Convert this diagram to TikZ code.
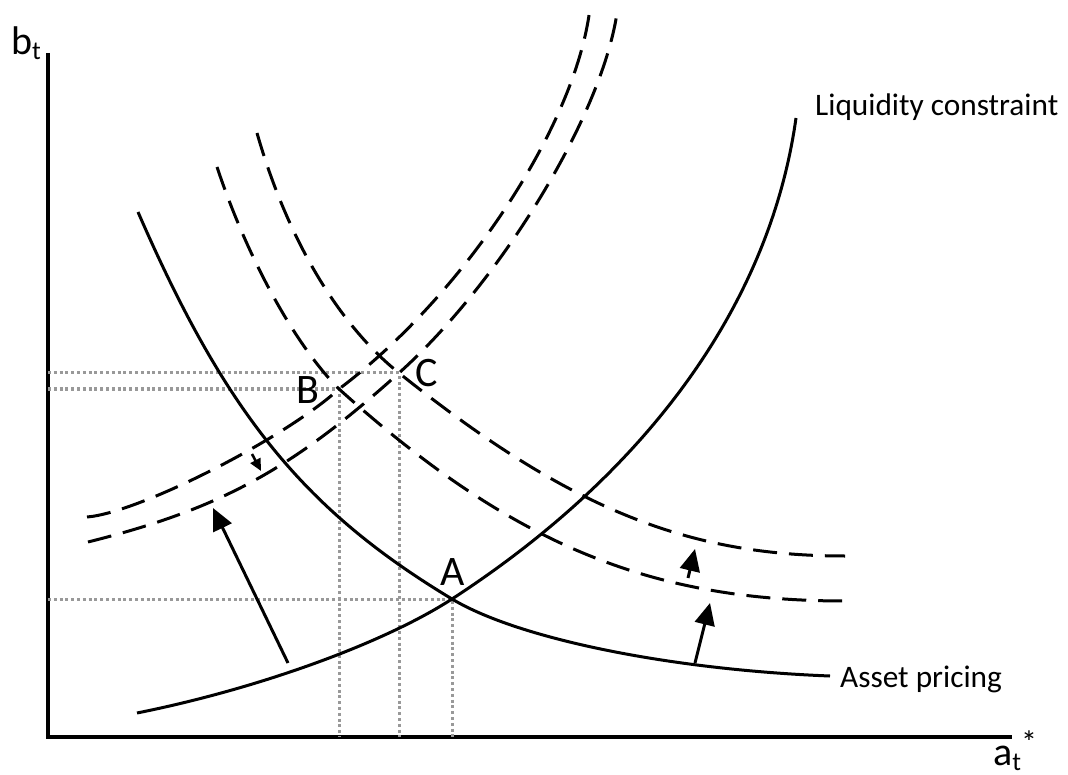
\documentclass[tikz,border=0pt]{standalone}
\usepackage{fontspec}
\setmainfont{Carlito}
\usetikzlibrary{arrows.meta}
\begin{document}
\begin{tikzpicture}[x=1pt,y=-1pt,
  axisline/.style={line width=3.3pt},
  curve/.style={line width=3pt},
  dashcurve/.style={line width=3pt, dash pattern=on 24pt off 12pt},
  dotline/.style={line width=3pt, color=black!40, dash pattern=on 3pt off 2.8pt},
  bigarrow/.style={line width=3pt, -{Triangle[length=22pt,width=20pt]}},
  smallarrow/.style={line width=2.6pt, -{Triangle[length=12pt,width=11pt]}},
  curvelabel/.style={inner sep=0pt, anchor=base west, font=\fontsize{31.3}{32}\selectfont},
  ptlabel/.style={inner sep=0pt, anchor=base, font=\fontsize{42}{43}\selectfont},
  axislabel/.style={inner sep=0pt, anchor=base west, font=\fontsize{40}{41}\selectfont}
]
\useasboundingbox (0,0) rectangle (1068,775);

% axes
\coordinate (O) at (48,737);
\coordinate (ytop) at (48,53);
\coordinate (xend) at (1012,737);
\draw[axisline] (ytop) -- (O) -- (xend);

% equilibrium points
\coordinate (A) at (452,599);
\coordinate (B) at (339,389);
\coordinate (C) at (399,373);

% dotted guide lines
\draw[dotline] (A -| O) -- (A) -- (A |- O);
\draw[dotline] (B -| O) -- (B) -- (B |- O);
\draw[dotline] (C -| O) -- (C) -- (C |- O);

% asset pricing (solid, decreasing)
\coordinate (ap0) at (138,212);
\coordinate (ap1) at (830,676);
\draw[curve] (ap0) .. controls (225.6,413.5) and (304,510) .. (A)
                   .. controls (518.3,638.8) and (669.8,669.7) .. (ap1);

% liquidity constraint (solid, increasing)
\coordinate (lc0) at (137,713);
\coordinate (lc1) at (796,118);
\draw[curve] (lc0) .. controls (258,688.8) and (383.8,643.2) .. (A)
                   .. controls (649.9,470.4) and (770.3,302) .. (lc1);

% upper increasing dashed
\coordinate (ui0) at (87,517);
\coordinate (ui1) at (590,8);
\draw[dashcurve] (ui0) .. controls (138.2,513) and (284.4,438.8) .. (B)
                       .. controls (463.8,295.4) and (576,125.1) .. (ui1);

% lower increasing dashed
\coordinate (li0) at (88,542);
\coordinate (li1) at (617,13);
\draw[dashcurve] (li0) .. controls (219.4,509.1) and (290.9,470.3) .. (C)
                       .. controls (501.4,280.9) and (601.7,115.3) .. (li1);

% upper decreasing dashed
\coordinate (ud0) at (257,133);
\coordinate (ud1) at (845,556);
\draw[dashcurve] (ud0) .. controls (287,237.9) and (338.1,324.3) .. (C)
                       .. controls (567.2,507.5) and (685.4,556) .. (ud1);

% lower decreasing dashed
\coordinate (ld0) at (217,167);
\coordinate (ld1) at (845,601);
\draw[dashcurve] (ld0) .. controls (247.5,258.5) and (295.1,345.1) .. (B)
                       .. controls (510.3,543.1) and (648.4,601) .. (ld1);

% shift arrows
\coordinate (a1s) at (288,663); \coordinate (a1e) at (213,508);
\coordinate (a2s) at (695,663); \coordinate (a2e) at (710,603);
\coordinate (a3s) at (688,578); \coordinate (a3e) at (695,549);
\coordinate (a4s) at (252,454); \coordinate (a4e) at (261,471);
\draw[bigarrow] (a1s) -- (a1e);
\draw[bigarrow] (a2s) -- (a2e);
\draw[bigarrow] (a3s) -- (a3e);
\draw[smallarrow] (a4s) -- (a4e);

% labels
\node[curvelabel] (lq) at (815,116) {Liquidity constraint};
\node[curvelabel] (ap) at (840,687) {Asset pricing};
\node[ptlabel] (lA) at (452.5,585) {A};
\node[ptlabel] (lB) at (307.5,403) {B};
\node[ptlabel] (lC) at (427,386) {C};
\node[axislabel] (lb) at (11,55) {b\raisebox{-5pt}{\fontsize{26}{26}\selectfont t}};
\node[axislabel] (la) at (993,765) {a\raisebox{-5pt}{\fontsize{26}{26}\selectfont t}\raisebox{12pt}{\fontsize{32}{32}\selectfont *}};
\end{tikzpicture}
\end{document}
